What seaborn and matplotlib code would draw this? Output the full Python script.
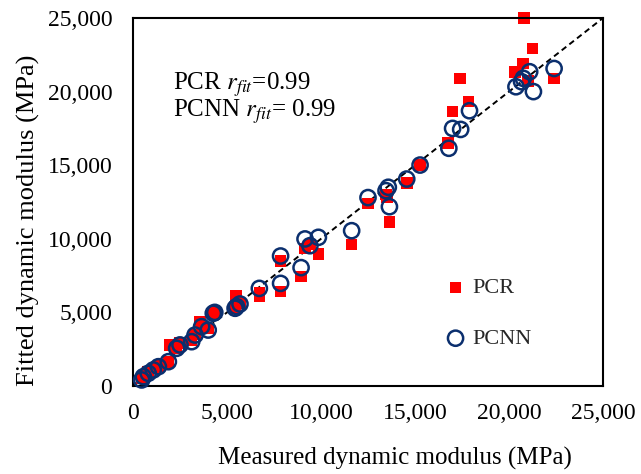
import matplotlib
matplotlib.use("Agg")
import matplotlib.pyplot as plt
import seaborn as sns
import pandas as pd

# Data (MPa)
pcr_measured = [460, 550, 810, 1080, 1350, 1880, 1970, 2320, 2500, 3120, 3300, 3560, 3650, 4000,
                4270, 4350, 5430, 5480, 5690, 6720, 6720, 7850, 7850, 8940, 9150, 9410, 9860, 11630,
                12500, 13460, 13500, 13640, 14560, 15270, 16770, 17000, 17390, 17840, 20320, 20760,
                20800, 21000, 21260, 22400]
pcr_fitted = [500, 700, 950, 1200, 1350, 1650, 2790, 2600, 2900, 3100, 3500, 4370, 4100, 3900,
              4940, 5050, 5300, 6100, 5600, 6300, 6070, 6410, 8490, 7430, 9350, 9600, 8970, 9620,
              12410, 13000, 12860, 11160, 13770, 15010, 16490, 18650, 20900, 19320, 21350, 21920,
              25000, 20700, 22940, 20900]

pcnn_measured = [460, 550, 810, 1080, 1350, 1880, 2320, 2500, 3120, 3300, 3650, 4000, 4270, 4350,
                 5430, 5510, 5690, 6720, 7850, 7850, 8940, 9150, 9410, 9860, 11630, 12500, 13460,
                 13580, 13640, 14560, 15270, 16800, 17000, 17430, 17900, 20370, 20670, 20760,
                 21100, 21300, 22400]
pcnn_fitted = [410, 630, 860, 1090, 1310, 1650, 2560, 2790, 3010, 3460, 4030, 3800, 4940, 5000,
               5280, 5390, 5570, 6630, 6970, 8830, 8040, 9990, 9530, 10100, 10550, 12800, 13270,
               13500, 12180, 14060, 15010, 16150, 17500, 17430, 18700, 20330, 20670, 20900,
               21350, 20000, 21570]

axis_ticks = [0, 5000, 10000, 15000, 20000, 25000]
series_names = ["PCR", "PCNN"]
annotation_lines = [r"PCR $r_{fit}$=0.99", r"PCNN $r_{fit}$= 0.99"]

sns.set_theme(style="white")
plt.rcParams['font.family'] = ['Liberation Serif', 'DejaVu Serif']
plt.rcParams['mathtext.fontset'] = 'stix'

fig = plt.figure(figsize=(6.41, 4.74), dpi=100)
ax = fig.add_axes([0.2075, 0.1857, 0.7332, 0.7763])

df_pcr = pd.DataFrame({"Measured": pcr_measured, "Fitted": pcr_fitted})
df_pcnn = pd.DataFrame({"Measured": pcnn_measured, "Fitted": pcnn_fitted})

# 1:1 line
ax.plot([axis_ticks[0], axis_ticks[-1]], [axis_ticks[0], axis_ticks[-1]],
        linestyle=(0, (3, 2)), color="black", linewidth=1.4, zorder=1)

sns.scatterplot(data=df_pcr, x="Measured", y="Fitted", ax=ax, marker="s", s=70,
                color="#ff0000", edgecolor="none", label=series_names[0], zorder=2,
                clip_on=False)
sns.scatterplot(data=df_pcnn, x="Measured", y="Fitted", ax=ax, marker="o", s=120,
                facecolor="none", edgecolor="#0b2f6e", linewidth=1.8,
                label=series_names[1], zorder=3, clip_on=False)

ax.set_xlim(axis_ticks[0], axis_ticks[-1])
ax.set_ylim(axis_ticks[0], axis_ticks[-1])
ax.set_xticks(axis_ticks)
ax.set_yticks(axis_ticks)
ax.set_xticklabels([f"{t:,}" for t in axis_ticks])
ax.set_yticklabels([f"{t:,}" for t in axis_ticks])
ax.tick_params(axis="x", length=0, labelsize=17, colors="black", pad=12)
ax.tick_params(axis="y", length=0, labelsize=17, colors="black", pad=15)

for sp in ax.spines.values():
    sp.set_color("black")
    sp.set_linewidth(1.5)

ax.set_xlabel("Measured dynamic modulus (MPa)", fontsize=18, color="black")
ax.set_ylabel("Fitted dynamic modulus (MPa)", fontsize=19, color="black")
ax.xaxis.set_label_coords(0.557, -0.165)
ax.yaxis.set_label_coords(-0.198, 0.45)

ax.text(0.085, 0.82, annotation_lines[0], transform=ax.transAxes, fontsize=18,
        color="black", va="center", ha="left")
ax.text(0.085, 0.745, annotation_lines[1], transform=ax.transAxes, fontsize=18,
        color="black", va="center", ha="left")

leg = ax.legend(loc="center left", bbox_to_anchor=(0.613, 0.197), frameon=False,
                fontsize=16, labelspacing=1.35, handletextpad=0.1, handlelength=1.3)

fig.savefig("out.png", dpi=100)
